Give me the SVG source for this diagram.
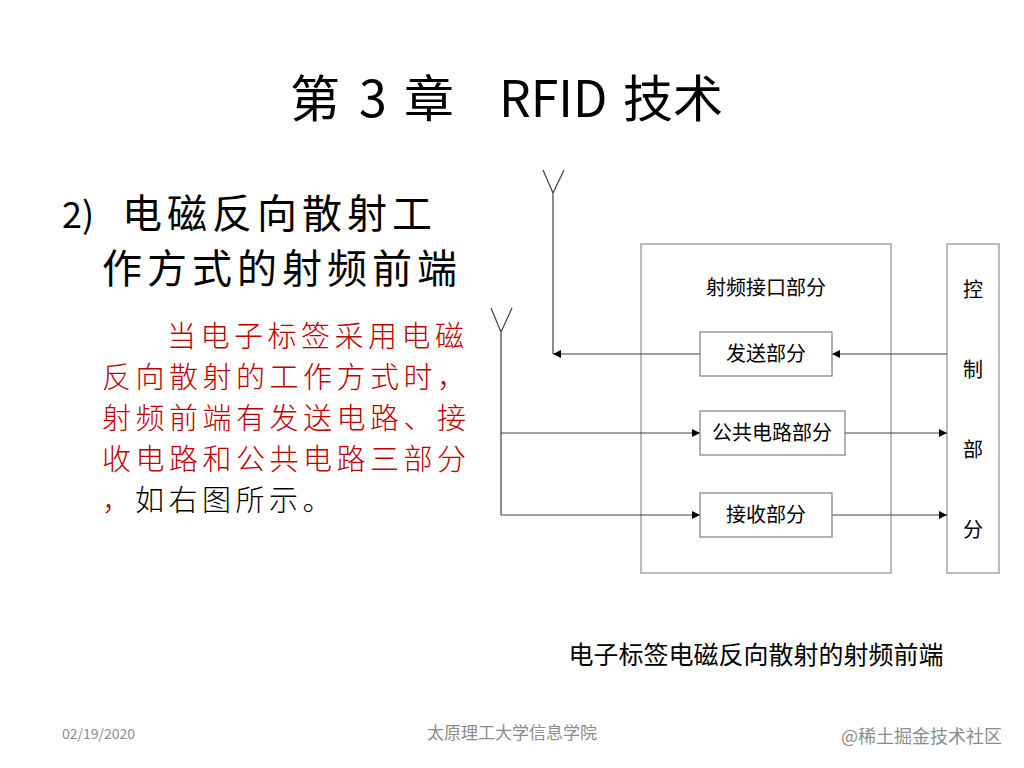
<svg xmlns="http://www.w3.org/2000/svg" width="1024" height="768" viewBox="0 0 1024 768">
<defs>
<style>
.cjk{font-family:"Noto Sans CJK SC","Noto Sans",sans-serif}
.box{fill:#fff;stroke:#7f7f7f;stroke-width:1.2}
.big{fill:none;stroke:#a6a6a6;stroke-width:1.5}
.ln{fill:none;stroke:#404040;stroke-width:1.2}
.lbl{font-size:20px;fill:#000;text-anchor:middle}
.red{fill:#c00000;font-size:29px;letter-spacing:4.5px;font-weight:300}
.foot{fill:#8c8c8c}
.head{font-size:40px;letter-spacing:5px;fill:#000}
</style>
<marker id="ah" viewBox="0 0 10 10" refX="10" refY="5" markerWidth="8" markerHeight="10" markerUnits="userSpaceOnUse" orient="auto">
<path d="M0,0 L10,5 L0,10 Z" fill="#000"/>
</marker>
</defs>
<rect width="1024" height="768" fill="#fff"/>
<text class="cjk" y="117" font-size="50" fill="#000"><tspan x="290">第</tspan><tspan x="359">3</tspan><tspan x="404">章</tspan><tspan x="499">RFID</tspan><tspan x="623">技术</tspan></text>
<text class="cjk" x="62" y="228" font-size="36" fill="#000">2)</text>
<text class="cjk head" x="122" y="228">电磁反向散射工</text>
<text class="cjk head" x="102" y="283">作方式的射频前端</text>
<g class="cjk">
<text class="red" x="167" y="347">当电子标签采用电磁</text>
<text class="red" x="102" y="388">反向散射的工作方式时，</text>
<text class="red" x="102" y="429">射频前端有发送电路、接</text>
<text class="red" x="102" y="470">收电路和公共电路三部分</text>
<text x="102" y="511" font-size="29" font-weight="300" letter-spacing="4.5"><tspan fill="#c00000">，</tspan><tspan fill="#000" x="135">如右图所示。</tspan></text>
</g>
<g id="rf-interface">
<rect class="big" x="641" y="244" width="250" height="329"/>
<text class="cjk lbl" x="766" y="295">射频接口部分</text>
</g>
<g id="control">
<rect class="big" x="947" y="244" width="52" height="329"/>
<text class="cjk lbl" x="973" y="297">控</text>
<text class="cjk lbl" x="973" y="377">制</text>
<text class="cjk lbl" x="973" y="457">部</text>
<text class="cjk lbl" x="973" y="537">分</text>
</g>
<g id="antenna1">
<path class="ln" d="M543,170 L553,193 L564,170 M553,193 L553,354"/>
</g>
<g id="antenna2">
<path class="ln" d="M491,308 L501,332 L512,308 M501,332 L501,515"/>
</g>
<g id="connectors">
<line class="ln" x1="700" y1="354" x2="553" y2="354" marker-end="url(#ah)"/>
<line class="ln" x1="947" y1="354" x2="832" y2="354" marker-end="url(#ah)"/>
<line class="ln" x1="501" y1="433" x2="700" y2="433" marker-end="url(#ah)"/>
<line class="ln" x1="845" y1="433" x2="947" y2="433" marker-end="url(#ah)"/>
<line class="ln" x1="501" y1="515" x2="700" y2="515" marker-end="url(#ah)"/>
<line class="ln" x1="832" y1="515" x2="947" y2="515" marker-end="url(#ah)"/>
</g>
<g id="send">
<rect class="box" x="700" y="332" width="132" height="44"/>
<text class="cjk lbl" x="766" y="361">发送部分</text>
</g>
<g id="common">
<rect class="box" x="700" y="411" width="145" height="44"/>
<text class="cjk lbl" x="772" y="440">公共电路部分</text>
</g>
<g id="receive">
<rect class="box" x="700" y="493" width="132" height="44"/>
<text class="cjk lbl" x="766" y="522">接收部分</text>
</g>
<text class="cjk" x="756" y="664" font-size="25" text-anchor="middle" fill="#000">电子标签电磁反向散射的射频前端</text>
<text class="cjk foot" x="62" y="739" font-size="14">02/19/2020</text>
<text class="cjk foot" x="512" y="739" font-size="17" text-anchor="middle">太原理工大学信息学院</text>
<text class="cjk foot" x="1002" y="743" font-size="18" text-anchor="end" fill="#999">@稀土掘金技术社区</text>
</svg>
